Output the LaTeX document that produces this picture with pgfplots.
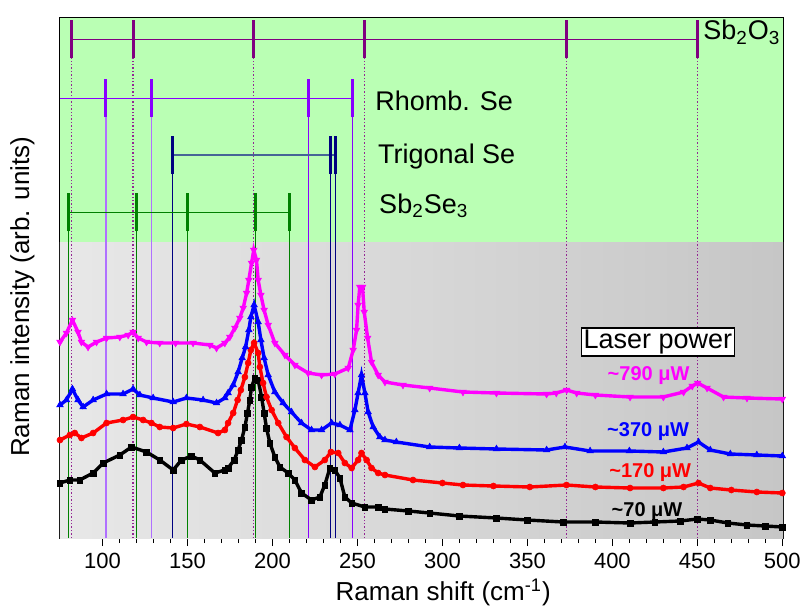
\documentclass[border=0pt]{standalone}
\usepackage{fontspec}
\setmainfont{Liberation Sans}
\usepackage{pgfplots}
\pgfplotsset{compat=1.18}
\definecolor{bggreen}{RGB}{186,255,180}
\definecolor{bgl}{RGB}{232,232,232}
\definecolor{bgr}{RGB}{198,198,198}
\definecolor{oxpurple}{RGB}{128,0,128}
\definecolor{rhviolet}{RGB}{136,0,255}
\definecolor{rhlight}{RGB}{176,112,255}
\definecolor{trnavy}{RGB}{0,0,128}
\definecolor{trline}{RGB}{70,100,150}
\definecolor{sbgreen}{RGB}{0,128,0}
\definecolor{cmag}{RGB}{255,0,255}
\definecolor{cblue}{RGB}{0,0,255}
\definecolor{cred}{RGB}{255,0,0}
\begin{document}
\begin{tikzpicture}
\path[use as bounding box] (-30pt,-37pt) rectangle (371pt,269pt);
\begin{axis}[
  scale only axis, width=361.5pt, height=260pt,
  at={(0,0)}, anchor=south west,
  xmin=75, xmax=500.4, ymin=0, ymax=520,
  clip mode=individual,
  axis line style={line width=1pt},
  xtick={100,150,...,500}, minor x tick num=4,
  ytick=\empty,
  xtick pos=bottom, tick align=outside,
  major tick length=4pt, minor tick length=2.5pt,
  every tick/.style={black, line width=0.7pt},
  /pgf/number format/assume math mode=true,
  xticklabel style={font=\fontsize{11}{13}\selectfont},
  xlabel={Raman shift (cm\textsuperscript{-1})},
  ylabel={Raman intensity (arb. units)},
  every axis x label/.style={at={(axis description cs:0.53,-0.105)}, anchor=center, font=\fontsize{13}{15}\selectfont},
  every axis y label/.style={at={(axis description cs:-0.052,0.464)}, rotate=90, anchor=center, font=\fontsize{13}{15}\selectfont},
]
% backgrounds
\fill[bggreen] (axis cs:75,296) rectangle (axis cs:500.4,520);
\shade[left color=bgl, right color=bgr] (axis cs:75,0) rectangle (axis cs:500.4,296);

% Sb2O3 reference lines
\draw[oxpurple, line width=0.5pt] (axis cs:81.75,498) -- (axis cs:450.2,498);
\pgfplotsinvokeforeach{81.75,118,188.9,254,373.1,450.2}{
  \draw[oxpurple!85, densely dotted, line width=0.7pt] (axis cs:#1,0) -- (axis cs:#1,480);
  \draw[oxpurple, line width=1.5pt] (axis cs:#1,480) -- (axis cs:#1,518);
}
% Rhombohedral Se
\draw[rhviolet, line width=0.5pt] (axis cs:75,440) -- (axis cs:247,440);
\pgfplotsinvokeforeach{102,129}{
  \draw[rhlight, line width=0.7pt] (axis cs:#1,0) -- (axis cs:#1,421);
  \draw[rhviolet, line width=1.5pt] (axis cs:#1,421) -- (axis cs:#1,459);
}
\pgfplotsinvokeforeach{221,247}{
  \draw[rhviolet, line width=0.5pt] (axis cs:#1,0) -- (axis cs:#1,421);
  \draw[rhviolet, line width=1.5pt] (axis cs:#1,421) -- (axis cs:#1,459);
}
% Trigonal Se
\draw[trline, line width=0.8pt] (axis cs:141,383) -- (axis cs:237,383);
\pgfplotsinvokeforeach{141,234,237}{
  \draw[trnavy, line width=0.5pt] (axis cs:#1,0) -- (axis cs:#1,364);
  \draw[trnavy, line width=1.5pt] (axis cs:#1,364) -- (axis cs:#1,402);
}
% Sb2Se3
\draw[sbgreen, line width=0.5pt] (axis cs:80,326) -- (axis cs:210,326);
\pgfplotsinvokeforeach{80,120,150,190,210}{
  \draw[sbgreen, line width=0.5pt] (axis cs:#1,0) -- (axis cs:#1,307);
  \draw[sbgreen, line width=1.5pt] (axis cs:#1,307) -- (axis cs:#1,345);
}

% ~70 uW
\addplot[black, line width=1.7pt, mark=square*, mark size=1.4pt, mark options={line width=0.3pt}] coordinates {
(75,55) (80.8,58) (86.6,58) (94.5,65) (100.4,75) (110.2,83) (117.1,91) (125.9,86)
(133.7,78) (141.6,68) (146.5,78) (152.4,82) (157.3,78) (166.1,65) (172,68) (173.9,70)
(177.5,78) (179.8,88) (181.8,98) (183.8,111) (185.3,125) (186.7,138) (187.7,151)
(189.6,160) (191.6,158) (193.6,141) (195.1,125) (196.5,110) (198.5,95) (201.4,81)
(204.4,71) (209.2,65) (213.2,58) (217.1,45) (223,38) (227.9,41) (230.8,53) (233.8,70)
(236.7,68) (239.7,60) (242.6,41) (246.6,35) (254.4,31) (262.2,31) (266.2,29) (280,27)
(292.5,25) (310,22) (331.8,20) (350,18) (371.1,16) (390,16) (410.4,15) (425,16) (439.9,17)
(450,19) (457.6,18) (468,15) (479.2,13) (490,12) (500,11)
};
% ~170 uW
\addplot[cred, line width=1.7pt, mark=*, mark size=1.5pt, mark options={line width=0.3pt}] coordinates {
(75,98) (80.8,103) (83.7,105) (87.6,100) (94.5,105) (102.4,115) (112.1,118) (118,121)
(123.9,118) (128.8,115) (133.7,111) (141.6,110) (149.4,114) (157.3,111) (168,105)
(172,108) (173.9,115) (176.9,125) (179.5,138) (181.4,148) (183.8,161) (185.7,175)
(187.3,188) (189.2,195) (191.6,185) (192.6,171) (194.5,155) (196.5,141) (199.5,128)
(203.4,115) (208.3,101) (213.2,90) (219.1,78) (225,71) (230.8,78) (234.4,86) (238.7,85)
(242.6,75) (246.6,70) (250.4,78) (252.4,85) (255.4,78) (258.3,70) (262.2,65) (266.2,63)
(282.7,58) (300,55) (312.1,53) (330,52) (351.4,51) (373,53) (390,51) (410.4,50) (430,50)
(441.9,51) (450.7,55) (457.6,50) (470,48) (485,46) (500,45)
};
% ~370 uW
\addplot[cblue, line width=1.7pt, mark=triangle*, mark size=1.9pt, mark options={line width=0.3pt}] coordinates {
(75,133) (78.8,138) (82.3,149) (85.6,138) (88.6,131) (94.5,138) (102.4,144) (112.1,144)
(118,149) (122,143) (129.8,140) (141.6,136) (149.4,140) (159.2,138) (167.1,135) (172,140)
(173.9,145) (176.9,153) (179.8,166) (182.2,180) (184.2,191) (186.1,208) (187.3,221)
(189.2,233) (191.6,216) (193.2,198) (195.1,180) (197.5,163) (201.4,146) (206.3,135)
(211.2,126) (217.1,115) (223,108) (228.9,108) (234.8,115) (239.7,113) (245.6,108)
(248.5,128) (250.4,145) (252.4,163) (254.4,145) (256.3,126) (259.3,111) (263.2,101)
(266.2,98) (272.9,96) (292.5,91) (310,90) (331.8,89) (361.3,88) (372.1,91) (386.9,87)
(410,87) (430,86) (443.9,90) (450.7,96) (457.6,88) (469.4,84) (485,83) (500,82)
};
% ~790 uW
\addplot[cmag, line width=1.7pt, mark=triangle*, mark size=1.9pt, mark options={rotate=180, line width=0.3pt}] coordinates {
(75,196) (78.8,205) (82.3,218) (85.6,206) (87.6,196) (91.5,191) (96.5,196) (102.4,200)
(110.2,201) (115.1,203) (118,206) (121,200) (125.9,196) (133.7,195) (143,195) (153.3,195)
(163.2,193) (167.1,190) (172,195) (174.9,201) (177.9,210) (180.8,220) (182.8,230)
(184.8,245) (186.1,258) (187.7,275) (189,288) (190.6,278) (191.6,258) (193.2,243)
(195.1,228) (197.5,213) (201.4,195) (207.3,183) (213.2,173) (221,165) (228.9,163)
(236.7,164) (244.6,170) (247.5,188) (249.5,208) (250.4,233) (251.4,251) (253,251)
(254,226) (256,200) (258.3,176) (262.2,163) (266.2,156) (276.8,153) (292.5,150)
(312.1,146) (331.8,145) (361.3,144) (367,145) (373.1,148) (379,145) (390,143)
(410.4,141) (430,141) (441.9,146) (447,152) (450.2,155) (455.7,150) (465.4,141)
(479.2,140) (500,139)
};

% phase labels
\node[anchor=base west, font=\fontsize{13.5}{16}\selectfont, inner sep=0pt] at (axis cs:453.3,498) {Sb\textsubscript{2}O\textsubscript{3}};
\node[anchor=base west, font=\fontsize{13.5}{16}\selectfont, inner sep=0pt] at (axis cs:260.3,428) {Rhomb. Se};
\node[anchor=base west, font=\fontsize{13.5}{16}\selectfont, inner sep=0pt] at (axis cs:262,375) {Trigonal Se};
\node[anchor=base west, font=\fontsize{13.5}{16}\selectfont, inner sep=0pt] at (axis cs:262.6,325) {Sb\textsubscript{2}Se\textsubscript{3}};

% laser power legend
\node[draw=black, fill=white, line width=0.6pt, inner sep=1pt, font=\fontsize{13.5}{16}\selectfont] at (axis cs:426.8,196) {Laser power};
\node[anchor=base, text=cmag, font=\fontsize{10}{12}\selectfont\bfseries] at (axis cs:421.3,158) {\textasciitilde790 μW};
\node[anchor=base, text=cblue, font=\fontsize{10}{12}\selectfont\bfseries] at (axis cs:421,101.3) {\textasciitilde370 μW};
\node[anchor=base, text=cred, font=\fontsize{10}{12}\selectfont\bfseries] at (axis cs:422.3,60.7) {\textasciitilde170 μW};
\node[anchor=base, text=black, font=\fontsize{10}{12}\selectfont\bfseries] at (axis cs:420.4,22) {\textasciitilde70 μW};
\end{axis}
\end{tikzpicture}
\end{document}
